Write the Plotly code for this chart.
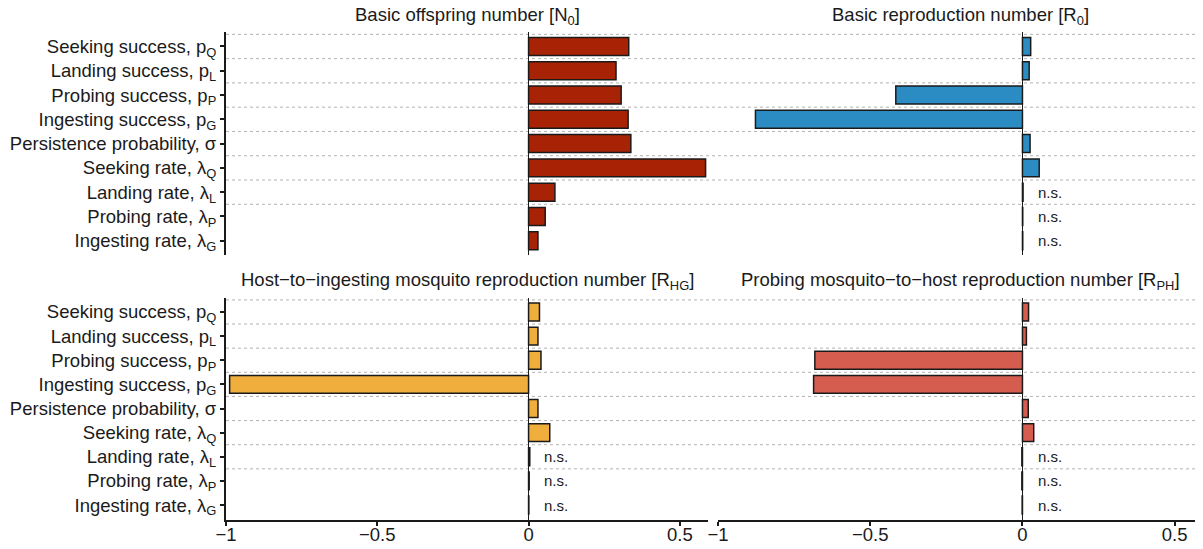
import plotly.graph_objects as go

# page body has an 8px margin: the figure is drawn 8px right/down in the window
OFF = 8
W, H = 1203 - OFF, 549 - OFF

params = [
    "Seeking success, p<sub>Q</sub>",
    "Landing success, p<sub>L</sub>",
    "Probing success, p<sub>P</sub>",
    "Ingesting success, p<sub>G</sub>",
    "Persistence probability, σ",
    "Seeking rate, λ<sub>Q</sub>",
    "Landing rate, λ<sub>L</sub>",
    "Probing rate, λ<sub>P</sub>",
    "Ingesting rate, λ<sub>G</sub>",
]

N0 = [0.331, 0.289, 0.306, 0.329, 0.338, 0.585, 0.087, 0.055, 0.031]
R0 = [0.027, 0.022, -0.416, -0.877, 0.025, 0.055, 0.002, 0.001, 0.001]
RHG = [0.036, 0.031, 0.041, -0.988, 0.031, 0.070, 0.004, 0.002, 0.001]
RPH = [0.020, 0.013, -0.682, -0.686, 0.019, 0.037, -0.002, -0.002, -0.001]

N0_sig = [True] * 9
R0_sig = [True] * 6 + [False] * 3
RHG_sig = [True] * 6 + [False] * 3
RPH_sig = [True] * 6 + [False] * 3

titles = [
    "Basic offspring number [N<sub>0</sub>]",
    "Basic reproduction number [R<sub>0</sub>]",
    "Host\u2212to\u2212ingesting mosquito reproduction number [R<sub>HG</sub>]",
    "Probing mosquito\u2212to\u2212host reproduction number [R<sub>PH</sub>]",
]
colors = ["#A82306", "#2B8CC4", "#F0AE3C", "#D45D50"]

x_tickvals = [-1, -0.5, 0, 0.5]
x_ticktext = ["\u22121", "\u22120.5", "0", "0.5"]

FONT = "Liberation Sans, Arial, sans-serif"
INK = "#1a1a1a"
FS = 18.5
positions = list(range(len(params)))

# screen pixel layout -> paper
def px(x):
    return (x - OFF) / W

def py(y):
    return 1 - (y - OFF) / H

xdom_left = [px(226), px(708)]
xdom_right = [px(718), 1.0]
ydom_top = [py(255.3), py(31.9)]
ydom_bot = [py(519.5), py(297.5)]
title_y = [py(16.5), py(16.5), py(281), py(281)]

panels = [
    (N0, N0_sig, "x", "y", xdom_left, ydom_top),
    (R0, R0_sig, "x2", "y2", xdom_right, ydom_top),
    (RHG, RHG_sig, "x3", "y3", xdom_left, ydom_bot),
    (RPH, RPH_sig, "x4", "y4", xdom_right, ydom_bot),
]

fig = go.Figure()
annotations = []
shapes = []

for i, (vals, sig, xa, ya, xd, yd) in enumerate(panels):
    fig.add_trace(go.Bar(
        x=vals, y=positions, orientation="h", xaxis=xa, yaxis=ya,
        width=0.74,
        marker=dict(color=colors[i], line=dict(color=INK, width=1.5)),
        showlegend=False, hoverinfo="x+y",
    ))
    for k, s in enumerate(sig):
        if not s:
            annotations.append(dict(
                x=0.045, y=k, xref=xa, yref=ya, text="n.s.", showarrow=False,
                xanchor="left", yanchor="middle",
                font=dict(family=FONT, size=15, color=INK),
            ))
    annotations.append(dict(
        x=(xd[0] + xd[1]) / 2, y=title_y[i], xref="paper", yref="paper",
        text=titles[i], showarrow=False, xanchor="center", yanchor="middle",
        font=dict(family=FONT, size=FS, color=INK),
    ))

# dashed separators between categories (span both columns)
for ya in ["y", "y3"]:
    for k in range(len(params) - 1):
        shapes.append(dict(
            type="line", xref="paper", yref=ya, x0=px(226), x1=1.0,
            y0=k - 0.5, y1=k - 0.5, layer="below",
            line=dict(color="#b3b3b3", width=1, dash="3px,3px"),
        ))

def xaxis(dom, bottom, anchor):
    d = dict(
        domain=dom, range=[-1, 0.593], anchor=anchor, fixedrange=True,
        showgrid=False, zeroline=True, zerolinecolor=INK, zerolinewidth=1.3,
        automargin=False,
    )
    if bottom:
        d.update(showline=True, linecolor=INK, linewidth=2,
                 ticks="outside", ticklen=4, tickwidth=2, tickcolor=INK,
                 tickvals=x_tickvals, ticktext=x_ticktext,
                 ticklabelstandoff=-7,
                 tickfont=dict(family=FONT, size=FS, color=INK))
    else:
        d.update(showline=False, showticklabels=False, ticks="")
    return d

def yaxis(dom, left, anchor):
    d = dict(
        domain=dom, range=[8.6, -0.6], anchor=anchor, fixedrange=True,
        showgrid=False, zeroline=False, automargin=False,
    )
    if left:
        d.update(showline=True, linecolor=INK, linewidth=2,
                 ticks="outside", ticklen=4, tickwidth=2, tickcolor=INK,
                 tickvals=positions, ticktext=params,
                 tickfont=dict(family=FONT, size=FS, color=INK))
    else:
        d.update(showline=False, showticklabels=False, ticks="")
    return d

fig.update_layout(
    width=W, height=H,
    margin=dict(l=0, r=0, t=0, b=0, pad=0),
    paper_bgcolor="white", plot_bgcolor="rgba(0,0,0,0)",
    font=dict(family=FONT, size=FS, color=INK),
    xaxis=xaxis(xdom_left, False, "y"),
    yaxis=yaxis(ydom_top, True, "x"),
    xaxis2=xaxis(xdom_right, False, "y2"),
    yaxis2=yaxis(ydom_top, False, "x2"),
    xaxis3=xaxis(xdom_left, True, "y3"),
    yaxis3=yaxis(ydom_bot, True, "x3"),
    xaxis4=xaxis(xdom_right, True, "y4"),
    yaxis4=yaxis(ydom_bot, False, "x4"),
    annotations=annotations,
    shapes=shapes,
)

fig.write_html("out.html")
